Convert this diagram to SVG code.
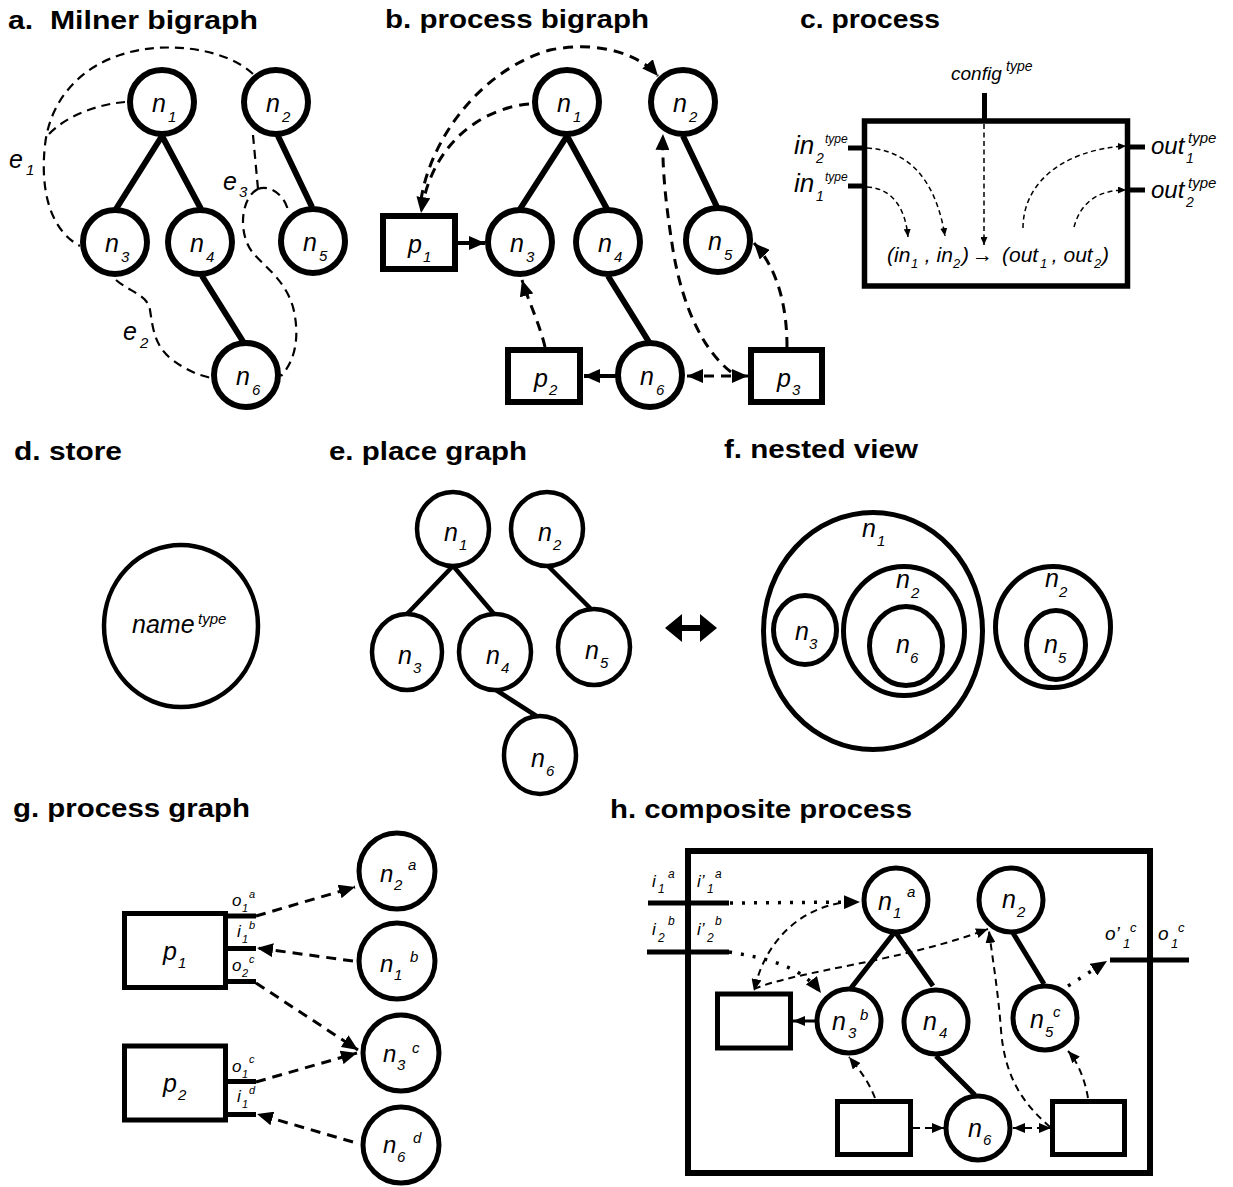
<svg xmlns="http://www.w3.org/2000/svg" width="1233" height="1187" viewBox="0 0 1233 1187">
<defs>
<style>
text { font-family: "Liberation Sans", Arial, "DejaVu Sans", sans-serif; fill:#000; }
.t { font-weight: bold; font-size: 25px; }
.l { font-style: italic; font-size: 25px; }
.s { font-style: italic; font-size: 15px; }
.nd6 { fill:#fff; stroke:#000; stroke-width:6; }
.nd5 { fill:#fff; stroke:#000; stroke-width:5; }
.nd45 { fill:#fff; stroke:#000; stroke-width:4.5; }
.box { fill:none; stroke:#000; }
.e6 { stroke:#000; stroke-width:6; fill:none; }
.e5 { stroke:#000; stroke-width:5; fill:none; }
.e45 { stroke:#000; stroke-width:4.5; fill:none; }
.da { fill:none; stroke:#000; stroke-width:2.2; stroke-dasharray:9 6; }
.db { fill:none; stroke:#000; stroke-width:3; stroke-dasharray:10 7; }
.dc { fill:none; stroke:#000; stroke-width:1.5; stroke-dasharray:5 3.5; }
.dh { fill:none; stroke:#000; stroke-width:2; stroke-dasharray:7 5; }
.dot { fill:none; stroke:#000; stroke-width:3.5; stroke-dasharray:3 9; }
.sol { fill:none; stroke:#000; stroke-width:4; }
.stub { stroke:#000; stroke-width:5; }
</style>
<marker id="ahL" markerUnits="userSpaceOnUse" markerWidth="16" markerHeight="14" viewBox="0 0 16 14" refX="16" refY="7" orient="auto-start-reverse"><path d="M0,0 L16,7 L0,14 z" fill="#000"/></marker>
<marker id="ahM" markerUnits="userSpaceOnUse" markerWidth="12" markerHeight="10" viewBox="0 0 12 10" refX="12" refY="5" orient="auto-start-reverse"><path d="M0,0 L12,5 L0,10 z" fill="#000"/></marker>
<marker id="ahS" markerUnits="userSpaceOnUse" markerWidth="8" markerHeight="7" viewBox="0 0 8 7" refX="8" refY="3.5" orient="auto-start-reverse"><path d="M0,0 L8,3.5 L0,7 z" fill="#000"/></marker>
</defs>
<rect width="1233" height="1187" fill="#fff"/>

<g id="titles">
<text class="t" x="8" y="29" xml:space="preserve" textLength="250" lengthAdjust="spacingAndGlyphs">a.  Milner bigraph</text>
<text class="t" x="385" y="28" textLength="264" lengthAdjust="spacingAndGlyphs">b. process bigraph</text>
<text class="t" x="800" y="28" textLength="140" lengthAdjust="spacingAndGlyphs">c. process</text>
<text class="t" x="14" y="460" textLength="108" lengthAdjust="spacingAndGlyphs">d. store</text>
<text class="t" x="329" y="460" textLength="198" lengthAdjust="spacingAndGlyphs">e. place graph</text>
<text class="t" x="724" y="458" textLength="194" lengthAdjust="spacingAndGlyphs">f. nested view</text>
<text class="t" x="13" y="817" textLength="237" lengthAdjust="spacingAndGlyphs">g. process graph</text>
<text class="t" x="610" y="818" textLength="302" lengthAdjust="spacingAndGlyphs">h. composite process</text>
</g>

<g id="connectors">
<!-- panel a -->
<path class="e6" d="M162,136 L116,209 M162,136 L201,209 M278,136 L312,207 M202,276 L244,343"/>
<path class="da" d="M253,74 C225,48 165,40 120,55 C80,68 50,100 45,145 C40,190 50,230 80,246"/>
<path class="da" d="M125,102 C100,104 68,114 48,135"/>
<path class="da" d="M253,135 L258,189"/>
<path class="da" d="M258,189 C268,185 283,192 288,210"/>
<path class="da" d="M258,189 C240,198 238,235 253,253 C265,267 285,280 293,307 C300,335 296,360 281,376"/>
<path class="da" d="M116,280 C130,292 148,295 150,310 C153,330 155,345 170,358 C185,370 200,376 212,378"/>
<!-- panel b -->
<path class="e6" d="M567,136 L520,209 M567,136 L607,209 M683,136 L717,207 M608,276 L649,342"/>
<path class="sol" d="M458,243 L485,243" marker-end="url(#ahL)"/>
<path class="sol" d="M616,376 L584,376" marker-end="url(#ahL)"/>
<path class="db" d="M529,104 C485,108 432,140 421,213" marker-end="url(#ahL)"/>
<path class="db" d="M421,200 C430,140 480,70 550,50 C600,40 640,55 658,76" marker-end="url(#ahL)"/>
<path class="db" d="M545,347 C540,325 528,300 522,280" marker-end="url(#ahL)"/>
<path class="db" d="M687,376 L748,376" marker-start="url(#ahL)" marker-end="url(#ahL)"/>
<path class="db" d="M731,372 C705,352 683,310 673,250 C665,200 662,165 663,134" marker-end="url(#ahL)"/>
<path class="db" d="M787,347 C787,305 777,268 754,243" marker-end="url(#ahL)"/>
<!-- panel c -->
<path class="dc" d="M867,148 C905,150 935,175 945,236" marker-end="url(#ahS)"/>
<path class="dc" d="M867,187 C890,188 905,205 908,237" marker-end="url(#ahS)"/>
<path class="dc" d="M984,124 L984,245" marker-end="url(#ahS)"/>
<path class="dc" d="M1023,228 C1023,185 1060,150 1126,146" marker-end="url(#ahS)"/>
<path class="dc" d="M1074,227 C1080,205 1095,190 1126,190" marker-end="url(#ahS)"/>
<!-- panel e -->
<path class="e45" d="M452,567 L407,614 M454,567 L494,614 M548,566 L591,609 M496,690 L538,717"/>
<!-- panel g -->
<path class="db" d="M256,916 L355,887" marker-end="url(#ahL)"/>
<path class="db" d="M353,961 L257,948" marker-end="url(#ahL)"/>
<path class="db" d="M256,983 L358,1050" marker-end="url(#ahL)"/>
<path class="db" d="M256,1082 L357,1053" marker-end="url(#ahL)"/>
<path class="db" d="M353,1142 L257,1114" marker-end="url(#ahL)"/>
<!-- panel h -->
<path class="e5" d="M894,933 L851,988 M896,933 L933,986 M1013,933 L1044,984 M936,1056 L975,1095"/>
<path fill="none" stroke="#000" stroke-width="3" d="M816,1021 L793,1021" marker-end="url(#ahM)"/>
<path class="dot" d="M730,903 L860,902" marker-end="url(#ahL)"/>
<path class="dot" d="M729,952 C765,958 800,965 821,993" marker-end="url(#ahL)"/>
<path class="dot" d="M1068,986 L1107,961" marker-end="url(#ahL)"/>
<path class="dh" d="M840,903 C800,910 765,940 754,991" marker-end="url(#ahM)"/>
<path class="dh" d="M754,989 C800,970 900,962 988,929" marker-end="url(#ahM)"/>
<path class="dh" d="M875,1098 C868,1080 858,1068 849,1057" marker-end="url(#ahM)"/>
<path class="dh" d="M913,1128 L944,1128" marker-end="url(#ahM)"/>
<path class="dh" d="M1013,1128 L1051,1128" marker-start="url(#ahM)" marker-end="url(#ahM)"/>
<path class="dh" d="M1050,1127 C1025,1105 1005,1080 1001,1030 C998,990 992,955 989,931" marker-end="url(#ahM)"/>
<path class="dh" d="M1088,1098 C1085,1080 1078,1062 1068,1051" marker-end="url(#ahM)"/>
</g>

<!-- panel a nodes -->
<g id="a-n1"><circle class="nd6" cx="162" cy="102" r="32"/><text class="l" x="152" y="112">n<tspan class="s" x="168" y="122">1</tspan></text></g>
<g id="a-n2"><circle class="nd6" cx="276" cy="102" r="32"/><text class="l" x="266" y="112">n<tspan class="s" x="282" y="122">2</tspan></text></g>
<g id="a-n3"><circle class="nd6" cx="115" cy="242" r="32"/><text class="l" x="105" y="252">n<tspan class="s" x="121" y="262">3</tspan></text></g>
<g id="a-n4"><circle class="nd6" cx="200" cy="242" r="32"/><text class="l" x="190" y="252">n<tspan class="s" x="206" y="262">4</tspan></text></g>
<g id="a-n5"><circle class="nd6" cx="313" cy="241" r="32"/><text class="l" x="303" y="251">n<tspan class="s" x="319" y="261">5</tspan></text></g>
<g id="a-n6"><circle class="nd6" cx="246" cy="375" r="32"/><text class="l" x="236" y="385">n<tspan class="s" x="252" y="395">6</tspan></text></g>
<g id="a-labels">
<text class="l" x="9" y="168">e<tspan class="s" x="26" y="175">1</tspan></text>
<text class="l" x="123" y="340">e<tspan class="s" x="140" y="348">2</tspan></text>
<text class="l" x="223" y="190">e<tspan class="s" x="239" y="197">3</tspan></text>
</g>

<!-- panel b nodes -->
<g id="b-n1"><circle class="nd6" cx="567" cy="102" r="32"/><text class="l" x="557" y="112">n<tspan class="s" x="573" y="122">1</tspan></text></g>
<g id="b-n2"><circle class="nd6" cx="683" cy="102" r="32"/><text class="l" x="673" y="112">n<tspan class="s" x="689" y="122">2</tspan></text></g>
<g id="b-n3"><circle class="nd6" cx="520" cy="242" r="32"/><text class="l" x="510" y="252">n<tspan class="s" x="526" y="262">3</tspan></text></g>
<g id="b-n4"><circle class="nd6" cx="608" cy="242" r="32"/><text class="l" x="598" y="252">n<tspan class="s" x="614" y="262">4</tspan></text></g>
<g id="b-n5"><circle class="nd6" cx="718" cy="240" r="32"/><text class="l" x="708" y="250">n<tspan class="s" x="724" y="260">5</tspan></text></g>
<g id="b-n6"><circle class="nd6" cx="650" cy="375" r="32"/><text class="l" x="640" y="385">n<tspan class="s" x="656" y="395">6</tspan></text></g>
<g id="b-p1"><rect class="nd6" x="383" y="216" width="72" height="53"/><text class="l" x="408" y="253">p<tspan class="s" x="423" y="262">1</tspan></text></g>
<g id="b-p2"><rect class="nd6" x="508" y="350" width="72" height="52"/><text class="l" x="534" y="387">p<tspan class="s" x="549" y="395">2</tspan></text></g>
<g id="b-p3"><rect class="nd6" x="751" y="350" width="71" height="52"/><text class="l" x="777" y="387">p<tspan class="s" x="792" y="395">3</tspan></text></g>

<!-- panel c -->
<g id="c-process">
<rect class="box" stroke-width="5.5" x="864.5" y="121" width="263" height="165"/>
<line class="stub" x1="984.5" y1="93" x2="984.5" y2="119"/>
<line class="stub" x1="848" y1="148" x2="864" y2="148"/>
<line class="stub" x1="848" y1="186" x2="864" y2="186"/>
<line class="stub" x1="1129" y1="147" x2="1145" y2="147"/>
<line class="stub" x1="1129" y1="190" x2="1145" y2="190"/>
<text class="l" style="font-size:19px" x="951" y="80">config<tspan class="s" style="font-size:14px" x="1006" y="71">type</tspan></text>
<text class="l" style="font-size:26px" x="794" y="154">in<tspan class="s" style="font-size:14px" x="816" y="163">2</tspan><tspan class="s" style="font-size:12px" x="825" y="143">type</tspan></text>
<text class="l" style="font-size:26px" x="794" y="192">in<tspan class="s" style="font-size:14px" x="816" y="201">1</tspan><tspan class="s" style="font-size:12px" x="825" y="181">type</tspan></text>
<text class="l" style="font-size:24px" x="1151" y="154">out<tspan class="s" style="font-size:14px" x="1186" y="163">1</tspan><tspan class="s" x="1188" y="143">type</tspan></text>
<text class="l" style="font-size:24px" x="1151" y="198">out<tspan class="s" style="font-size:14px" x="1186" y="207">2</tspan><tspan class="s" x="1188" y="188">type</tspan></text>
<text class="l" style="font-size:21px" y="262"><tspan x="887" y="262">(in</tspan><tspan style="font-size:13px" x="911" y="268">1</tspan><tspan x="919" y="262"> , in</tspan><tspan style="font-size:13px" x="953" y="268">2</tspan><tspan x="962" y="262">)</tspan><tspan x="972" y="262">→</tspan><tspan x="1002" y="262">(out</tspan><tspan style="font-size:13px" x="1040" y="268">1</tspan><tspan x="1046" y="262"> , out</tspan><tspan style="font-size:13px" x="1094" y="268">2</tspan><tspan x="1102" y="262">)</tspan></text>
</g>

<!-- panel d -->
<g id="d-store"><ellipse class="nd45" cx="181" cy="626" rx="77" ry="81"/><text class="l" x="132" y="633">name<tspan class="s" x="198" y="624">type</tspan></text></g>

<!-- panel e -->
<g id="e-n1"><ellipse class="nd45" cx="453" cy="529" rx="36" ry="37"/><text class="l" x="444" y="541">n<tspan class="s" x="459" y="550">1</tspan></text></g>
<g id="e-n2"><ellipse class="nd45" cx="547" cy="529" rx="36" ry="37"/><text class="l" x="538" y="541">n<tspan class="s" x="553" y="550">2</tspan></text></g>
<g id="e-n3"><ellipse class="nd45" cx="407" cy="652" rx="35" ry="38"/><text class="l" x="398" y="664">n<tspan class="s" x="413" y="673">3</tspan></text></g>
<g id="e-n4"><ellipse class="nd45" cx="495" cy="652" rx="36" ry="38"/><text class="l" x="486" y="664">n<tspan class="s" x="501" y="673">4</tspan></text></g>
<g id="e-n5"><ellipse class="nd45" cx="594" cy="647" rx="36" ry="38"/><text class="l" x="585" y="659">n<tspan class="s" x="600" y="668">5</tspan></text></g>
<g id="e-n6"><ellipse class="nd45" cx="540" cy="755" rx="36" ry="39"/><text class="l" x="531" y="767">n<tspan class="s" x="546" y="776">6</tspan></text></g>

<g id="ef-equiv"><polygon fill="#000" points="665,628 682,614 682,625 700,625 700,614 717,628 700,642 700,631 682,631 682,642"/></g>

<!-- panel f -->
<g id="f-n1"><ellipse class="nd5" cx="873" cy="631" rx="109.5" ry="118.5"/><text class="l" x="862" y="537">n<tspan class="s" x="877" y="546">1</tspan></text></g>
<g id="f-n3"><ellipse class="nd5" cx="805" cy="630" rx="31.5" ry="34.5"/><text class="l" x="795" y="640">n<tspan class="s" x="809" y="649">3</tspan></text></g>
<g id="f-n2a"><ellipse class="nd5" cx="904" cy="631" rx="60.5" ry="64.5"/><text class="l" x="896" y="588">n<tspan class="s" x="911" y="598">2</tspan></text></g>
<g id="f-n6"><ellipse class="nd5" cx="906" cy="646" rx="36.5" ry="39.5"/><text class="l" x="896" y="653">n<tspan class="s" x="910" y="663">6</tspan></text></g>
<g id="f-n2b"><ellipse class="nd5" cx="1053" cy="627" rx="57.5" ry="60.5"/><text class="l" x="1045" y="587">n<tspan class="s" x="1059" y="597">2</tspan></text></g>
<g id="f-n5"><ellipse class="nd5" cx="1056" cy="645" rx="29.5" ry="34.5"/><text class="l" x="1044" y="653">n<tspan class="s" x="1058" y="663">5</tspan></text></g>

<!-- panel g -->
<g id="g-p1">
<rect class="nd5" stroke-width="5.5" x="124.5" y="913.5" width="101" height="74"/>
<line class="stub" x1="225" y1="916" x2="256" y2="916"/>
<line class="stub" x1="225" y1="948.5" x2="256" y2="948.5"/>
<line class="stub" x1="225" y1="981.5" x2="256" y2="981.5"/>
<text class="l" x="163" y="960">p<tspan class="s" x="178" y="968">1</tspan></text>
<text class="l" style="font-size:17px" x="232" y="906">o<tspan class="s" style="font-size:11px" x="242" y="912">1</tspan><tspan class="s" style="font-size:11px" x="249" y="898">a</tspan></text>
<text class="l" style="font-size:17px" x="237" y="937">i<tspan class="s" style="font-size:11px" x="242" y="943">1</tspan><tspan class="s" style="font-size:11px" x="249" y="929">b</tspan></text>
<text class="l" style="font-size:17px" x="232" y="971">o<tspan class="s" style="font-size:11px" x="242" y="977">2</tspan><tspan class="s" style="font-size:11px" x="249" y="963">c</tspan></text>
</g>
<g id="g-p2">
<rect class="nd5" stroke-width="5.5" x="124.5" y="1046" width="101" height="74"/>
<line class="stub" x1="225" y1="1081.5" x2="256" y2="1081.5"/>
<line class="stub" x1="225" y1="1114.5" x2="256" y2="1114.5"/>
<text class="l" x="163" y="1092">p<tspan class="s" x="178" y="1100">2</tspan></text>
<text class="l" style="font-size:17px" x="232" y="1072">o<tspan class="s" style="font-size:11px" x="242" y="1078">1</tspan><tspan class="s" style="font-size:11px" x="249" y="1063">c</tspan></text>
<text class="l" style="font-size:17px" x="237" y="1102">i<tspan class="s" style="font-size:11px" x="242" y="1108">1</tspan><tspan class="s" style="font-size:11px" x="249" y="1094">d</tspan></text>
</g>
<g id="g-n2"><circle class="nd5" cx="397" cy="871" r="38"/><text class="l" style="font-size:24px" x="380" y="882">n<tspan class="s" x="394" y="890">2</tspan><tspan class="s" x="408" y="870">a</tspan></text></g>
<g id="g-n1"><circle class="nd5" cx="397" cy="961" r="38"/><text class="l" style="font-size:24px" x="380" y="972">n<tspan class="s" x="394" y="980">1</tspan><tspan class="s" x="410" y="962">b</tspan></text></g>
<g id="g-n3"><circle class="nd5" cx="401" cy="1053" r="38"/><text class="l" style="font-size:24px" x="383" y="1062">n<tspan class="s" x="397" y="1070">3</tspan><tspan class="s" x="412" y="1053">c</tspan></text></g>
<g id="g-n6"><circle class="nd5" cx="401" cy="1145" r="38"/><text class="l" style="font-size:24px" x="383" y="1153">n<tspan class="s" x="397" y="1162">6</tspan><tspan class="s" x="413" y="1143">d</tspan></text></g>

<!-- panel h -->
<g id="h-composite">
<rect class="box" stroke-width="6" x="688" y="851" width="462" height="322"/>
<line class="stub" x1="648" y1="903" x2="729" y2="903"/>
<line class="stub" x1="647" y1="952" x2="729" y2="952"/>
<line class="stub" x1="1110" y1="960" x2="1189" y2="960"/>
<text class="l" style="font-size:17px" x="652" y="887">i<tspan class="s" style="font-size:12px" x="658" y="893">1</tspan><tspan class="s" style="font-size:12px" x="668" y="878">a</tspan></text>
<text class="l" style="font-size:17px" x="697" y="887">i’<tspan class="s" style="font-size:12px" x="707" y="893">1</tspan><tspan class="s" style="font-size:12px" x="715" y="878">a</tspan></text>
<text class="l" style="font-size:17px" x="652" y="935">i<tspan class="s" style="font-size:12px" x="658" y="942">2</tspan><tspan class="s" style="font-size:12px" x="668" y="925">b</tspan></text>
<text class="l" style="font-size:17px" x="697" y="935">i’<tspan class="s" style="font-size:12px" x="707" y="942">2</tspan><tspan class="s" style="font-size:12px" x="715" y="925">b</tspan></text>
<text class="l" style="font-size:19px" x="1105" y="940">o’<tspan class="s" style="font-size:13px" x="1123" y="948">1</tspan><tspan class="s" style="font-size:13px" x="1130" y="932">c</tspan></text>
<text class="l" style="font-size:19px" x="1158" y="940">o<tspan class="s" style="font-size:13px" x="1171" y="948">1</tspan><tspan class="s" style="font-size:13px" x="1178" y="932">c</tspan></text>
</g>
<g id="h-n1"><circle class="nd5" cx="896" cy="900" r="32"/><text class="l" x="878" y="910">n<tspan class="s" x="893" y="918">1</tspan><tspan class="s" x="907" y="897">a</tspan></text></g>
<g id="h-n2"><circle class="nd5" cx="1011" cy="900" r="32"/><text class="l" x="1002" y="908">n<tspan class="s" x="1017" y="917">2</tspan></text></g>
<g id="h-n3"><circle class="nd5" cx="849" cy="1021" r="32"/><text class="l" x="832" y="1030">n<tspan class="s" x="848" y="1038">3</tspan><tspan class="s" x="860" y="1020">b</tspan></text></g>
<g id="h-n4"><circle class="nd5" cx="936" cy="1022" r="32"/><text class="l" x="923" y="1030">n<tspan class="s" x="939" y="1038">4</tspan></text></g>
<g id="h-n5"><circle class="nd5" cx="1045" cy="1018" r="32"/><text class="l" x="1030" y="1028">n<tspan class="s" x="1045" y="1037">5</tspan><tspan class="s" x="1053" y="1017">c</tspan></text></g>
<g id="h-n6"><circle class="nd5" cx="978" cy="1128" r="32"/><text class="l" x="968" y="1137">n<tspan class="s" x="983" y="1145">6</tspan></text></g>
<g id="h-pA"><rect class="nd5" x="717.5" y="994" width="73" height="54"/></g>
<g id="h-pB"><rect class="nd5" x="837.5" y="1101.5" width="73" height="53"/></g>
<g id="h-pC"><rect class="nd5" x="1052.5" y="1101.5" width="72" height="53"/></g>
</svg>
